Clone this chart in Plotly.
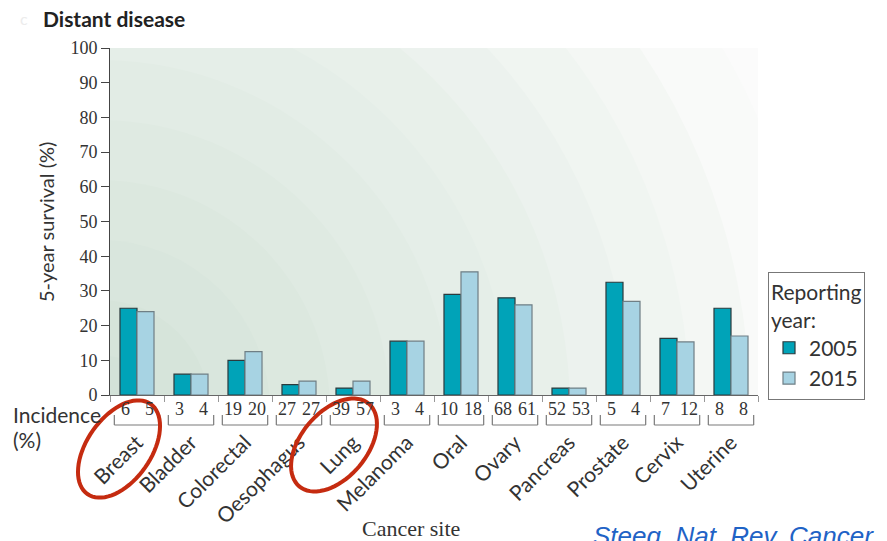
import numpy as np
import plotly.graph_objects as go

# ── data ──────────────────────────────────────────────────────────────────────
sites = ["Breast", "Bladder", "Colorectal", "Oesophagus", "Lung", "Melanoma",
         "Oral", "Ovary", "Pancreas", "Prostate", "Cervix", "Uterine"]
surv_2005 = [25, 6, 10, 3, 2, 15.5, 29, 28, 2, 32.5, 16.3, 25]
surv_2015 = [24, 6, 12.5, 4, 4, 15.5, 35.5, 26, 2, 27, 15.3, 17]
inc_2005 = [6, 3, 19, 27, 39, 3, 10, 68, 52, 5, 7, 8]
inc_2015 = [5, 4, 20, 27, 57, 4, 18, 61, 53, 4, 12, 8]

# ── geometry (page pixels; the browser adds an 8px body margin) ───────────────
W, H = 887, 541
OFF = 8
PL, PR, PT, PB = 110, 758, 48, 395      # plot area on the page
PW, PH = PR - PL, PB - PT
NCAT = len(sites)
UX = PW / NCAT        # px per category
UY = PH / 100         # px per % point

SANS = "Lato"
SERIF = "Liberation Serif"
TEAL = "#00a3b8"
LIGHT = "#a7d3e3"


def px(x):
    return (x - PL) / PW


def py(y):
    return (PB - y) / PH


fig = go.Figure()

fig.add_trace(go.Bar(
    x=sites, y=surv_2005, name="2005",
    marker=dict(color=TEAL, line=dict(color="#2b3a3d", width=1.2)),
))
fig.add_trace(go.Bar(
    x=sites, y=surv_2015, name="2015",
    marker=dict(color=LIGHT, line=dict(color="#6f7f85", width=1.2)),
))

shapes = []

# soft radial background, centred near the bottom-left corner
bands = [(720, "#f9faf9"), (650, "#f4f7f4"), (590, "#f0f5f1"), (530, "#ecf2ee"),
         (470, "#e8f0ea"), (410, "#e5eee8"), (350, "#e2ece5"), (290, "#dfeae2"),
         (230, "#dce8df"), (170, "#d9e6dd"), (110, "#d6e4da"), (55, "#d3e2d8")]
cx = -0.5 + (100 - PL) / UX
cy = (PB - 410) / UY
for r, col in bands:
    shapes.append(dict(
        type="circle", xref="x", yref="y", layer="below",
        x0=cx - r / UX, x1=cx + r / UX, y0=cy - r / UY, y1=cy + r / UY,
        fillcolor=col, line=dict(width=0),
    ))

# brackets under each pair of incidence numbers
yb_top, yb_bot = py(415), py(425)
for i in range(NCAT):
    x0, x1 = i - 0.42, i + 0.42
    for seg in [(x0, yb_bot, x1, yb_bot), (x0, yb_bot, x0, yb_top), (x1, yb_bot, x1, yb_top)]:
        shapes.append(dict(type="line", xref="x", yref="paper",
                           x0=seg[0], y0=seg[1], x1=seg[2], y1=seg[3],
                           line=dict(color="#7a7a7a", width=1.2)))


# red hand-drawn ellipses
def ellipse_path(cxp, cyp, a, b, deg):
    t = np.linspace(0, 2 * np.pi, 73)
    ph = np.radians(deg)
    xs = cxp + a * np.cos(t) * np.cos(ph) - b * np.sin(t) * np.sin(ph)
    ys = cyp - (a * np.cos(t) * np.sin(ph) + b * np.sin(t) * np.cos(ph))
    pts = [f"{px(x):.4f},{py(y):.4f}" for x, y in zip(xs, ys)]
    return "M " + " L ".join(pts) + " Z"


for ecx, ecy, a, b, deg in [(119, 449, 55, 32, 55), (334, 445, 54, 33, 50)]:
    shapes.append(dict(type="path", xref="paper", yref="paper",
                       path=ellipse_path(ecx, ecy, a, b, deg),
                       line=dict(color="#c52b10", width=4)))

annotations = []
for i, s in enumerate(sites):
    for val, shift in [(inc_2005[i], -12), (inc_2015[i], 12)]:
        annotations.append(dict(
            x=s, y=py(409), xref="x", yref="paper", xshift=shift,
            text=str(val), showarrow=False, yanchor="middle",
            font=dict(family=SERIF, size=18, color="#333"),
        ))

annotations += [
    dict(x=px(11), y=py(415), xref="paper", yref="paper", text="Incidence",
         showarrow=False, xanchor="left", yanchor="middle",
         font=dict(family=SANS, size=21, color="#333")),
    dict(x=px(11), y=py(439), xref="paper", yref="paper", text="(%)",
         showarrow=False, xanchor="left", yanchor="middle",
         font=dict(family=SANS, size=21, color="#333")),
    dict(x=px(411), y=py(528), xref="paper", yref="paper", text="Cancer site",
         showarrow=False, xanchor="center", yanchor="middle",
         font=dict(family=SERIF, size=22, color="#333")),
    dict(x=px(46), y=py(222), xref="paper", yref="paper", text="5-year survival (%)",
         showarrow=False, textangle=-90, xanchor="center", yanchor="middle",
         font=dict(family=SANS, size=20, color="#333")),
    dict(x=px(41), y=py(18), xref="paper", yref="paper", text="<b>Distant disease</b>",
         showarrow=False, xanchor="left", yanchor="middle",
         font=dict(family=SANS, size=21, color="#222")),
    dict(x=px(18), y=py(18), xref="paper", yref="paper", text="c",
         showarrow=False, xanchor="left", yanchor="middle",
         font=dict(family=SANS, size=16, color="#ececec")),
    dict(x=px(591), y=py(519), xref="paper", yref="paper",
         text="<i>Steeg, Nat. Rev. Cancer</i>",
         showarrow=False, xanchor="left", yanchor="top",
         font=dict(family="Liberation Sans", size=26, color="#1f63c6")),
]

fig.update_layout(
    width=W, height=H,
    margin=dict(l=PL - OFF, r=W + OFF - PR, t=PT - OFF, b=H + OFF - PB),
    paper_bgcolor="white",
    plot_bgcolor="#fbfbfb",
    barmode="group",
    bargap=0.37,
    bargroupgap=0,
    shapes=shapes,
    annotations=annotations,
    showlegend=True,
    legend=dict(
        x=px(768), y=py(272), xanchor="left", yanchor="top",
        title=dict(text="Reporting<br>year:", font=dict(family=SANS, size=21, color="#333")),
        font=dict(family=SANS, size=21, color="#333"),
        bgcolor="white", bordercolor="#777", borderwidth=1,
    ),
)

fig.update_xaxes(
    type="category", range=[-0.5, NCAT - 0.5],
    tickson="boundaries", ticks="outside", ticklen=6, tickcolor="#999",
    showline=True, linecolor="#666", linewidth=1,
    tickangle=-45, ticklabelstandoff=26,
    tickfont=dict(family=SANS, size=21, color="#333"),
    showgrid=False,
)
fig.update_yaxes(
    range=[0, 100], dtick=10, ticks="outside", ticklen=8, tickcolor="#444",
    showline=True, linecolor="#444", linewidth=1,
    tickfont=dict(family=SERIF, size=18, color="#333"),
    showgrid=False, zeroline=False,
)

fig.write_html("out.html")
